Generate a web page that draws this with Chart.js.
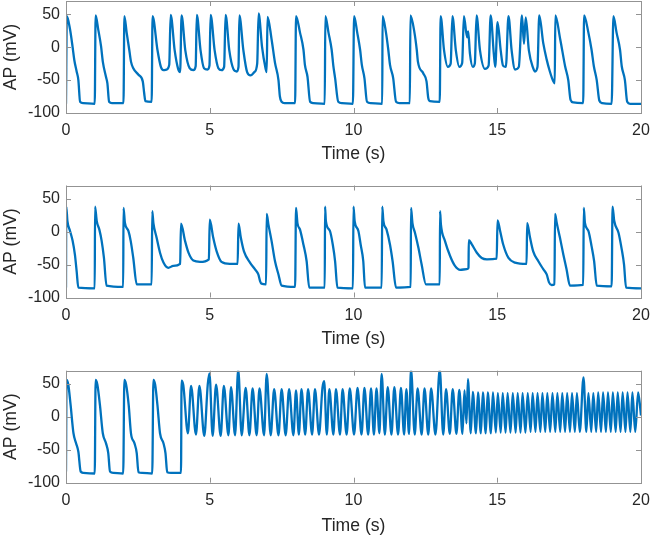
<!DOCTYPE html>
<html>
<head>
<meta charset="utf-8">
<script src="https://cdn.jsdelivr.net/npm/chart.js@4.4.1/dist/chart.umd.min.js"></script>
<style>
  body { margin: 0; background: #fff; }
  canvas { position: absolute; left: 0; }
</style>
</head>
<body>
<canvas id="ap1" width="651" height="170" style="top:0px"></canvas>
<canvas id="ap2" width="651" height="175" style="top:175px"></canvas>
<canvas id="ap3" width="651" height="177" style="top:360px"></canvas>
<script>
// axis ticks
const timeTicks = [0, 5, 10, 15, 20];
const apTicks = [-100, -50, 0, 50];

// [time (s), AP (mV)]
const trace1 = [
  [0,-86],[0.03,47],[0.14,27],[0.23,0],[0.29,-20],[0.37,-37],[0.43,-50],[0.49,-83],[0.6,-85],[1.0,-86],
  [1.03,48],[1.12,27],[1.22,1],[1.28,-22],[1.39,-45],[1.44,-55],[1.5,-83],[1.6,-85],[2.0,-85],
  [2.03,47],[2.11,22],[2.2,-4],[2.26,-22],[2.34,-32],[2.52,-42],[2.67,-52],[2.72,-70],[2.76,-82],[2.98,-83],
  [3.01,47],[3.18,-4],[3.3,-30],[3.39,-35],[3.5,-34],[3.59,-27],[3.64,49],
  [3.78,-5],[3.9,-33],[3.97,-38],[4.02,48],
  [4.15,-5],[4.3,-32],[4.43,-35],[4.51,-29],[4.55,49],
  [4.68,-5],[4.8,-32],[4.92,-34],[4.99,-28],[5.03,49],
  [5.17,-5],[5.3,-32],[5.41,-35],[5.5,-30],[5.55,49],
  [5.68,-5],[5.82,-33],[5.94,-37],[6.0,-30],[6.03,48],
  [6.17,-5],[6.3,-38],[6.42,-43],[6.55,-38],[6.65,-25],[6.7,51],
  [6.82,0],[6.93,-30],[6.98,-38],[7.01,46],
  [7.15,12],[7.27,-24],[7.39,-50],[7.44,-75],[7.5,-83],[7.6,-85],[7.97,-85],
  [8.0,47],[8.14,22],[8.26,-4],[8.31,-27],[8.4,-45],[8.49,-83],[8.6,-85],[9.0,-86],
  [9.02,47],[9.13,22],[9.24,-4],[9.3,-29],[9.36,-47],[9.47,-83],[9.6,-85],[9.98,-86],
  [10.02,47],[10.13,22],[10.23,-4],[10.29,-27],[10.38,-47],[10.47,-83],[10.6,-85],[11.0,-86],
  [11.01,47],[11.13,22],[11.21,-4],[11.27,-27],[11.38,-47],[11.48,-83],[11.6,-85],[11.96,-85],
  [11.98,48],[12.12,22],[12.2,-4],[12.24,-22],[12.43,-40],[12.54,-52],[12.6,-77],[12.66,-82],[13.0,-83],
  [13.03,47],[13.15,-5],[13.28,-30],[13.38,-25],[13.44,47],
  [13.56,-5],[13.68,-30],[13.78,-24],[13.84,47],
  [13.95,15],[13.99,24],[14.05,-10],[14.15,-30],[14.22,-25],[14.28,48],
  [14.4,-5],[14.57,-33],[14.7,-28],[14.77,48],
  [14.88,-10],[14.93,-30],[15.01,38],[15.12,-5],[15.2,-28],[15.3,-30],[15.39,47],
  [15.5,-5],[15.62,-34],[15.75,-30],[15.86,48],
  [15.93,5],[15.99,45],[16.1,-5],[16.25,-32],[16.31,-37],[16.4,-30],[16.46,48],
  [16.6,6],[16.72,-19],[16.83,-37],[16.95,-52],[17.0,-55],[17.02,48],
  [17.19,12],[17.36,-29],[17.47,-50],[17.55,-80],[17.65,-84],[17.99,-85],
  [18.02,48],[18.17,22],[18.28,-4],[18.36,-29],[18.46,-50],[18.55,-81],[18.65,-85],[18.98,-86],
  [19.04,47],[19.15,22],[19.27,-4],[19.33,-29],[19.44,-50],[19.52,-83],[19.62,-86],[20.0,-86]
];

const trace2 = [
  [0,-85],[0.01,38],[0.05,16],[0.14,1],[0.23,-14],[0.31,-35],[0.37,-60],[0.43,-85],[1.0,-86],
  [1.01,38],[1.07,16],[1.16,3],[1.24,-14],[1.32,-40],[1.41,-82],[1.99,-84],
  [2.0,36],[2.05,13],[2.17,1],[2.25,-14],[2.34,-40],[2.46,-80],[2.98,-80],
  [3.0,31],[3.04,13],[3.15,-9],[3.27,-32],[3.39,-47],[3.56,-55],[3.73,-52],[3.97,-49],
  [4.0,12],[4.14,-14],[4.26,-32],[4.43,-44],[4.66,-46],[4.97,-42],
  [5.0,18],[5.12,-9],[5.24,-30],[5.41,-46],[5.7,-49],[5.97,-49],
  [6.0,12],[6.08,-9],[6.19,-30],[6.4,-47],[6.57,-57],[6.69,-65],[6.75,-75],[6.8,-79],[6.96,-80],
  [6.98,27],[7.04,11],[7.15,-14],[7.27,-45],[7.39,-65],[7.5,-82],[7.97,-84],
  [8.0,36],[8.05,13],[8.14,3],[8.26,-20],[8.37,-45],[8.46,-85],[9.0,-85],
  [9.01,38],[9.04,16],[9.18,1],[9.28,-20],[9.36,-45],[9.44,-85],[9.98,-86],
  [10.0,38],[10.04,16],[10.17,1],[10.25,-20],[10.34,-45],[10.4,-85],[10.98,-85],
  [11.0,38],[11.04,16],[11.15,3],[11.27,-20],[11.36,-45],[11.48,-85],[11.99,-84],
  [12.0,36],[12.05,13],[12.14,-2],[12.26,-25],[12.37,-50],[12.52,-80],[13.0,-80],
  [13.01,31],[13.04,11],[13.18,-14],[13.36,-37],[13.53,-52],[13.71,-58],[13.94,-57],[14.0,-55],
  [14.01,-13],[14.11,-19],[14.29,-32],[14.46,-40],[14.64,-42],[14.98,-41],
  [15.01,17],[15.1,1],[15.21,-20],[15.39,-40],[15.62,-47],[16.02,-49],
  [16.04,13],[16.14,-9],[16.25,-30],[16.43,-45],[16.6,-57],[16.72,-65],[16.8,-77],[16.89,-81],[16.99,-80],
  [17.01,27],[17.07,13],[17.18,-9],[17.3,-35],[17.41,-57],[17.53,-82],[17.99,-81],
  [18.01,36],[18.05,13],[18.17,1],[18.28,-22],[18.37,-45],[18.46,-82],[18.98,-83],
  [19.01,38],[19.07,16],[19.22,-2],[19.33,-27],[19.41,-50],[19.48,-85],[20.0,-86]
];

const trace3 = [
  [0,-83],[0.02,56],[0.08,49],[0.16,18],[0.26,-25],[0.35,-40],[0.43,-53],[0.51,-83],[0.6,-85],[1.0,-86],
  [1.03,56],[1.09,49],[1.18,18],[1.28,-25],[1.39,-40],[1.47,-55],[1.53,-83],[1.65,-85],[1.99,-86],
  [2.03,56],[2.09,49],[2.18,18],[2.26,-25],[2.38,-40],[2.46,-55],[2.52,-84],[2.65,-85],[3.0,-86],
  [3.04,56],[3.1,49],[3.18,18],[3.27,-25],[3.39,-40],[3.46,-55],[3.52,-84],[3.65,-85],[4.0,-85],
  [4.02,55],[4.08,48],[4.24,-25],[4.35,47],[4.52,-27],[4.64,47],[4.81,-29],[4.93,49],[4.99,66],
  [5.1,-29],[5.22,49],[5.38,-29],[5.49,47],[5.65,-28],[5.74,45],[5.88,-28],[5.99,72],
  [6.11,-28],[6.25,44],[6.38,-28],[6.49,43],[6.63,-28],[6.73,43],[6.89,-28],[6.98,65],
  [7.12,-28],[7.24,42],[7.39,-28],[7.5,42],[7.64,-28],[7.76,42],[7.91,-28],[8.0,40],
  [8.1,-27],[8.19,42],[8.32,-27],[8.42,42],[8.56,-27],[8.66,42],[8.8,-27],[8.92,44],[8.98,54],
  [9.07,-27],[9.16,42],[9.3,-27],[9.39,42],[9.53,-27],[9.62,42],[9.76,-27],[9.87,43],
  [10.02,-27],[10.14,44],[10.28,-27],[10.38,44],[10.51,-27],[10.61,43],[10.71,-27],[10.8,43],[10.9,-25],[10.98,65],
  [11.09,-27],[11.19,45],[11.32,-27],[11.42,45],[11.55,-27],[11.65,44],[11.76,-27],[11.84,42],[11.93,-26],[12.0,72],
  [12.13,-27],[12.23,43],[12.37,-27],[12.47,43],[12.6,-27],[12.7,43],[12.85,-27],[13.0,72],
  [13.12,-27],[13.22,42],[13.35,-26],[13.45,42],[13.58,-26],[13.68,41],[13.79,-26],[13.86,40],[13.93,-10],[13.98,57],
  [14.08,-25],[14.15,38],[14.26,-25],[14.33,37],[14.43,-25],[14.5,37],[14.6,-25],[14.67,37],[14.78,-25],[14.85,37],[14.95,-24],
  [15.02,36],[15.12,-24],[15.19,36],[15.29,-24],[15.36,36],[15.46,-24],[15.54,36],[15.64,-24],[15.71,36],[15.81,-24],[15.88,36],[15.98,-24],
  [16.06,36],[16.16,-23],[16.23,36],[16.33,-23],[16.4,36],[16.5,-23],[16.57,36],[16.67,-23],[16.74,36],[16.84,-23],[16.92,36],
  [17.02,-23],[17.09,36],[17.19,-23],[17.26,36],[17.36,-23],[17.43,36],[17.53,-23],[17.6,36],[17.7,-23],[17.77,36],[17.87,-23],[18.0,60],
  [18.1,-23],[18.17,36],[18.27,-23],[18.34,36],[18.44,-23],[18.51,37],[18.61,-23],[18.68,37],[18.78,-23],[18.85,37],[18.95,-23],
  [19.02,37],[19.12,-23],[19.19,37],[19.29,-23],[19.36,37],[19.46,-23],[19.53,37],[19.63,-23],[19.7,37],[19.8,-23],[19.9,37],[20.0,2]
];

const textColor = '#262626';
const boxColor = '#939393';
const fontFamily = '"Liberation Sans", Helvetica, Arial, sans-serif';

// MATLAB style box with inward ticks on all four sides
const boxPlugin = {
  id: 'box',
  afterDatasetsDraw(chart) {
    const { ctx, chartArea: a, scales: { x, y } } = chart;
    ctx.save();
    ctx.strokeStyle = boxColor;
    ctx.lineWidth = 1;
    ctx.beginPath();
    timeTicks.forEach(v => {
      const px = Math.round(x.getPixelForValue(v)) + 0.5;
      ctx.moveTo(px, a.bottom); ctx.lineTo(px, a.bottom - 5);
      ctx.moveTo(px, a.top); ctx.lineTo(px, a.top + 5);
    });
    apTicks.forEach(v => {
      const py = Math.round(y.getPixelForValue(v)) + 0.5;
      ctx.moveTo(a.left, py); ctx.lineTo(a.left + 5, py);
      ctx.moveTo(a.right, py); ctx.lineTo(a.right - 5, py);
    });
    ctx.stroke();
    ctx.strokeRect(Math.round(a.left) + 0.5, Math.round(a.top) + 0.5,
      Math.round(a.right - a.left), Math.round(a.bottom - a.top));
    ctx.restore();
  }
};

function noPad(s) {
  s.paddingTop = 0; s.paddingBottom = 0; s.paddingLeft = 0; s.paddingRight = 0;
}

function makePanel(id, trace, padTop, titlePad) {
  const canvas = document.getElementById(id);
  const plotH = 112;
  return new Chart(canvas.getContext('2d'), {
    type: 'line',
    data: {
      datasets: [{
        data: trace.map(([t, v]) => ({ x: t, y: v })),
        borderColor: '#0072BD',
        borderWidth: 2.3,
        pointRadius: 0,
        cubicInterpolationMode: 'monotone',
        clip: 0
      }]
    },
    options: {
      responsive: false,
      animation: false,
      events: [],
      layout: { padding: { left: 0, right: 10, top: padTop, bottom: 0 } },
      plugins: { legend: { display: false }, tooltip: { enabled: false } },
      scales: {
        x: {
          type: 'linear', min: 0, max: 20,
          grid: { display: false, drawTicks: false },
          border: { display: false },
          afterBuildTicks: s => { s.ticks = timeTicks.map(v => ({ value: v })); },
          afterFit: s => { s.height = canvas.height - padTop - plotH; noPad(s); },
          ticks: { color: textColor, padding: 8, maxRotation: 0, font: { family: fontFamily, size: 16 } },
          title: { display: true, text: 'Time (s)', color: textColor,
                   padding: { top: 0, bottom: titlePad }, font: { family: fontFamily, size: 17.6 } }
        },
        y: {
          type: 'linear', min: -100, max: 70,
          grid: { display: false, drawTicks: false },
          border: { display: false },
          afterBuildTicks: s => { s.ticks = apTicks.map(v => ({ value: v })); },
          afterFit: s => { s.width = 66; noPad(s); },
          ticks: { color: textColor, padding: 6, font: { family: fontFamily, size: 16 } },
          title: { display: true, text: 'AP (mV)', color: textColor,
                   padding: { top: 1, bottom: 0 }, font: { family: fontFamily, size: 17.6 } }
        }
      }
    },
    plugins: [boxPlugin]
  });
}

const apChart1 = makePanel('ap1', trace1, 1, 5);
const apChart2 = makePanel('ap2', trace2, 10.5, 0);
const apChart3 = makePanel('ap3', trace3, 10.7, 0);
</script>
</body>
</html>
